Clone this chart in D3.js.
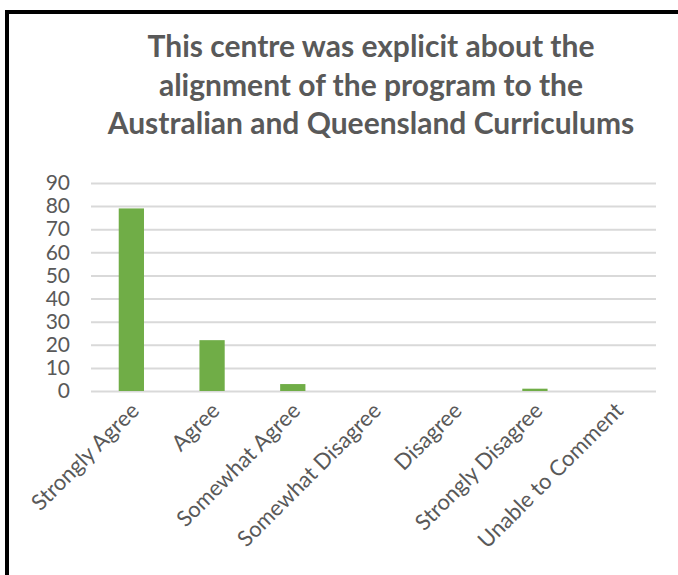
<!DOCTYPE html>
<html>
<head>
<meta charset="utf-8">
<script src="https://cdn.jsdelivr.net/npm/d3@7"></script>
<style>
  html, body { margin: 0; padding: 0; background: #fff; }
  svg { display: block; }
</style>
</head>
<body>
<svg id="chart" width="678" height="575"></svg>
<script>
const categories = ["Strongly Agree", "Agree", "Somewhat Agree", "Somewhat Disagree", "Disagree", "Strongly Disagree", "Unable to Comment"];
const values = [79, 22, 3, 0, 0, 1, 0];
const yTicks = [0, 10, 20, 30, 40, 50, 60, 70, 80, 90];
const titleLines = ["This centre was explicit about the", "alignment of the program to the", "Australian and Queensland Curriculums"];

const svg = d3.select("#chart");
const font = "Lato, 'Open Sans', sans-serif";
const textColor = "#595959";

svg.append("rect").attr("width", 678).attr("height", 575).attr("fill", "#fff");

// chart frame (runs off the right and bottom edges)
svg.append("rect")
  .attr("x", 7).attr("y", 12)
  .attr("width", 700).attr("height", 600)
  .attr("fill", "none").attr("stroke", "#000").attr("stroke-width", 4);

// title
svg.append("g").selectAll("text").data(titleLines).join("text")
  .attr("x", 371)
  .attr("y", (d, i) => 57 + i * 38.5)
  .attr("text-anchor", "middle")
  .attr("font-family", font)
  .attr("font-weight", "bold")
  .attr("font-size", 30)
  .attr("fill", textColor)
  .text(d => d);

const plot = { left: 91, right: 656, top: 183, bottom: 391 };

const x = d3.scaleBand().domain(categories).range([plot.left, plot.right]).paddingInner(0.687).paddingOuter(0.3435);
const y = d3.scaleLinear().domain([0, 90]).range([plot.bottom, plot.top]);

// gridlines
svg.append("g")
  .attr("transform", `translate(${plot.left},0)`)
  .call(d3.axisLeft(y).tickValues(yTicks).tickSize(-(plot.right - plot.left)).tickFormat(""))
  .call(g => g.select(".domain").remove())
  .call(g => g.selectAll("line").attr("stroke", "#d9d9d9").attr("stroke-width", 2));

// y tick labels
svg.append("g")
  .attr("transform", `translate(70,0)`)
  .call(d3.axisLeft(y).tickValues(yTicks).tickSize(0).tickPadding(0))
  .call(g => g.select(".domain").remove())
  .call(g => g.selectAll("text")
    .attr("font-family", font).attr("font-size", 21).attr("fill", textColor));

// bars
svg.append("g").selectAll("rect").data(values).join("rect")
  .attr("x", (d, i) => x(categories[i]))
  .attr("width", x.bandwidth())
  .attr("y", d => y(d))
  .attr("height", d => y(0) - y(d))
  .attr("fill", "#70ad47");

// category labels, rotated
svg.append("g").selectAll("text").data(categories).join("text")
  .attr("transform", d => `translate(${x(d) + x.bandwidth() / 2 + 9},${412}) rotate(-45)`)
  .attr("text-anchor", "end")
  .attr("font-family", font)
  .attr("font-size", 22)
  .attr("fill", textColor)
  .text(d => d);
</script>
</body>
</html>
